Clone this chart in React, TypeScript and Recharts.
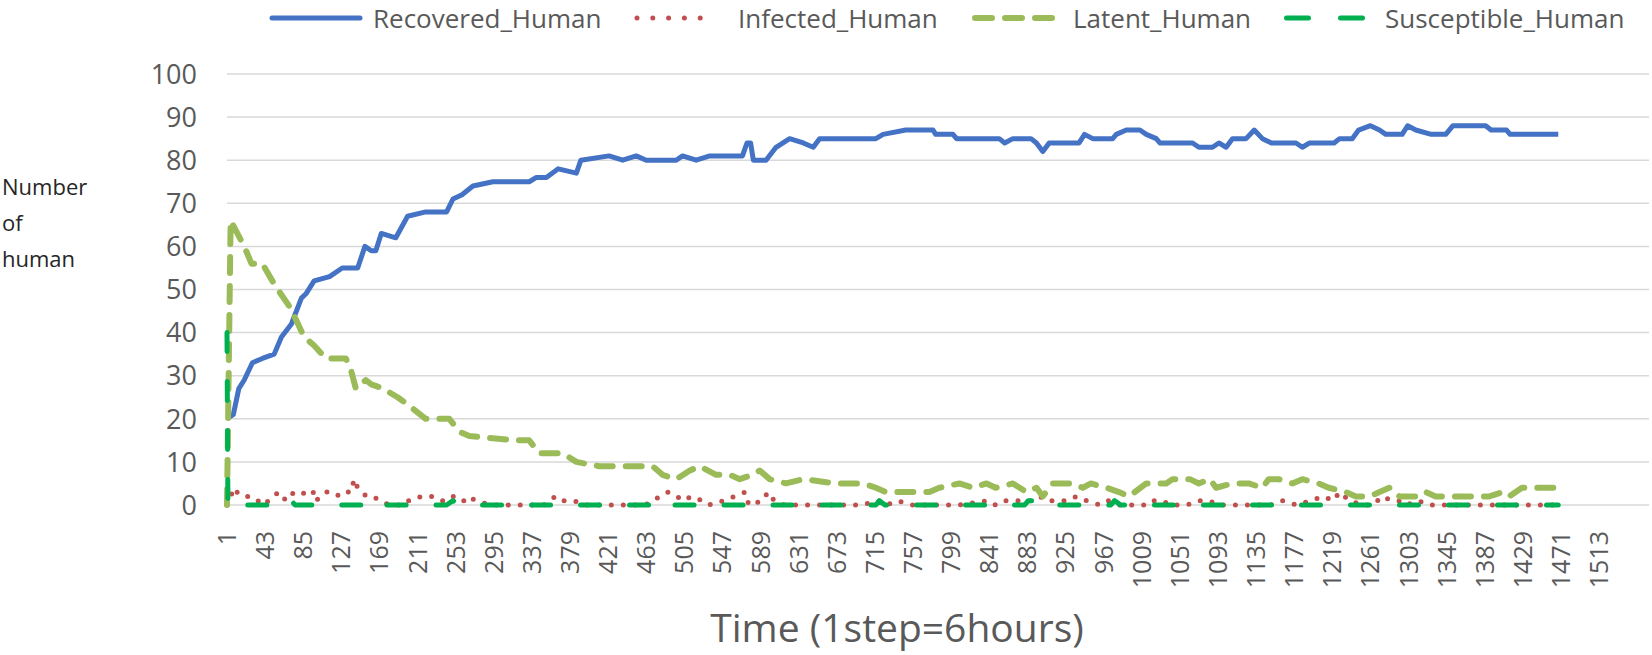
import React from "react";
import { LineChart, Line, XAxis, YAxis, CartesianGrid } from "recharts";

const WIDTH = 1652;
const HEIGHT = 655;
const FONT = "'Open Sans', sans-serif";
const TEXT = "#595959";

const seriesNames = ["Recovered_Human", "Infected_Human", "Latent_Human", "Susceptible_Human"];
const colors = ["#4472C4", "#C0504D", "#9BBB59", "#00B050"];

const xTicks = [
  1, 43, 85, 127, 169, 211, 253, 295, 337, 379, 421, 463, 505, 547, 589, 631, 673, 715, 757,
  799, 841, 883, 925, 967, 1009, 1051, 1093, 1135, 1177, 1219, 1261, 1303, 1345, 1387, 1429,
  1471, 1513,
];
const yTicks = [0, 10, 20, 30, 40, 50, 60, 70, 80, 90, 100];

// [time step, number of humans]
const recovered = [
  [1, 20], [8, 21], [14, 27], [20, 29], [29, 33], [40, 34], [53, 35], [61, 39], [72, 42],
  [83, 48], [88, 49], [97, 52], [114, 53], [128, 55], [145, 55], [153, 60], [160, 59],
  [165, 59], [171, 63], [187, 62], [200, 67], [220, 68], [243, 68], [250, 71], [260, 72],
  [272, 74], [294, 75], [334, 75], [342, 76], [353, 76], [366, 78], [386, 77], [391, 80],
  [422, 81], [437, 80], [452, 81], [463, 80], [496, 80], [503, 81], [518, 80], [533, 81],
  [569, 81], [574, 84], [578, 84], [581, 80], [595, 80], [606, 83], [621, 85], [636, 84],
  [647, 83], [654, 85], [716, 85], [724, 86], [749, 87], [779, 87], [782, 86], [801, 86],
  [805, 85], [852, 85], [858, 84], [867, 85], [887, 85], [893, 84], [900, 82], [907, 84],
  [940, 84], [946, 86], [955, 85], [977, 85], [981, 86], [992, 87], [1007, 87], [1014, 86],
  [1025, 85], [1029, 84], [1065, 84], [1072, 83], [1087, 83], [1094, 84], [1102, 83],
  [1109, 85], [1124, 85], [1133, 87], [1142, 85], [1152, 84], [1179, 84], [1186, 83],
  [1194, 84], [1221, 84], [1227, 85], [1241, 85], [1248, 87], [1261, 88], [1271, 87],
  [1278, 86], [1296, 86], [1302, 88], [1311, 87], [1328, 86], [1344, 86], [1352, 88],
  [1388, 88], [1394, 87], [1411, 87], [1415, 86], [1468, 86],
];

const infected = [
  [1, 0], [5, 2], [9, 4], [12, 3], [18, 2], [28, 2], [35, 1], [40, 0], [47, 1], [51, 2],
  [59, 3], [66, 1], [75, 3], [84, 3], [89, 2], [97, 3], [99, 1], [104, 2], [110, 3],
  [118, 3], [125, 2], [132, 3], [138, 3], [141, 6], [145, 4], [149, 3], [155, 2], [162, 2],
  [169, 1], [180, 0], [191, 0], [196, 1], [205, 1], [215, 2], [226, 2], [235, 1], [242, 1],
  [249, 2], [256, 2], [262, 1], [267, 2], [275, 1], [291, 0], [350, 0], [363, 2], [370, 1],
  [383, 1], [395, 0], [462, 0], [470, 1], [478, 2], [487, 3], [496, 2], [505, 1], [512, 2],
  [525, 1], [532, 0], [548, 1], [560, 2], [572, 3], [576, 0], [591, 1], [597, 3], [604, 1],
  [615, 0], [701, 0], [718, 1], [728, 0], [740, 1], [756, 0], [807, 0], [840, 1], [848, 0],
  [857, 1], [875, 1], [890, 1], [900, 2], [909, 1], [926, 1], [937, 2], [948, 1], [963, 0],
  [972, 1], [985, 0], [1015, 0], [1021, 1], [1032, 1], [1040, 0], [1059, 0], [1072, 1],
  [1083, 1], [1095, 0], [1151, 0], [1164, 1], [1180, 0], [1209, 2], [1220, 1], [1227, 3],
  [1238, 1], [1252, 0], [1264, 0], [1274, 2], [1285, 1], [1292, 1], [1300, 0], [1314, 1],
  [1325, 0], [1468, 0],
];

const latent = [
  [1, 0], [5, 66], [10, 64], [20, 60], [28, 56], [40, 56], [51, 52], [57, 50], [70, 46],
  [77, 43], [86, 39], [97, 37], [110, 34], [132, 34], [138, 31], [143, 27], [154, 29],
  [160, 28], [173, 27], [189, 25], [202, 23], [220, 20], [246, 20], [257, 17], [268, 16],
  [320, 15], [334, 15], [345, 12], [371, 12], [386, 10], [411, 9], [470, 9], [481, 7],
  [496, 6], [511, 8], [522, 9], [540, 7], [555, 7], [566, 6], [580, 7], [588, 8], [599, 6],
  [617, 5], [636, 6], [672, 5], [702, 5], [716, 4], [727, 3], [775, 3], [786, 4], [808, 5],
  [823, 4], [838, 5], [848, 4], [867, 5], [882, 3], [893, 4], [900, 2], [911, 5], [933, 5],
  [944, 4], [953, 5], [970, 4], [984, 3], [995, 2], [1014, 5], [1036, 5], [1043, 6],
  [1062, 6], [1072, 5], [1084, 6], [1091, 4], [1109, 5], [1127, 5], [1142, 4], [1149, 6],
  [1160, 6], [1175, 5], [1186, 6], [1204, 5], [1215, 4], [1234, 3], [1245, 2], [1260, 2],
  [1271, 3], [1282, 4], [1293, 2], [1315, 2], [1322, 3], [1333, 2], [1392, 2], [1407, 3],
  [1414, 2], [1428, 4], [1468, 4],
];

const susceptible = [
  [1, 40], [2, 0], [9, 1], [15, 1], [18, 0], [62, 0], [66, 1], [72, 1], [76, 0], [150, 0],
  [155, 1], [162, 1], [166, 0], [243, 0], [250, 1], [258, 0], [470, 0], [474, 1], [480, 0],
  [716, 0], [720, 1], [726, 0], [880, 0], [884, 1], [893, 1], [898, 0], [975, 0], [979, 1],
  [986, 0], [1468, 0],
];

const toRows = (pts: number[][]) => pts.map(([step, value]) => ({ step, value }));

const YTick = ({ y, payload }: any) => (
  <text x={197} y={y} dy="0.36em" textAnchor="end" fontSize={27} fontFamily={FONT} fill={TEXT}>
    {payload.value}
  </text>
);

const XTick = ({ x, payload }: any) => (
  <text
    transform={`translate(${x},531) rotate(-90)`}
    dy="0.36em"
    textAnchor="end"
    fontSize={25}
    fontFamily={FONT}
    fill={TEXT}
  >
    {payload.value}
  </text>
);

// legend layout: [icon start, icon end, text x]
const legendPos = [
  [272, 360, 373],
  [637, 716, 738],
  [975, 1052, 1073],
  [1286.5, 1362.5, 1385],
];
const legendDash = ["", "0 15.8", "17 13", "22 32"];
const legendWidth = [5, 5, 6, 5];

export default function App() {
  return (
    <div style={{ position: "absolute", left: 0, top: 0, width: WIDTH, height: HEIGHT, background: "#fff" }}>
      <LineChart width={WIDTH} height={HEIGHT} margin={{ top: 74, right: 3, bottom: 90, left: 0 }}>
        <CartesianGrid vertical={false} stroke="#d9d9d9" strokeWidth={1.5} />
        <XAxis
          dataKey="step"
          type="number"
          domain={[1, 1568]}
          ticks={xTicks}
          interval={0}
          height={60}
          axisLine={false}
          tickLine={false}
          tick={XTick}
        />
        <YAxis
          type="number"
          domain={[0, 100]}
          ticks={yTicks}
          width={227}
          axisLine={false}
          tickLine={false}
          tick={YTick}
        />
        <Line
          data={toRows(recovered)}
          dataKey="value"
          name={seriesNames[0]}
          stroke={colors[0]}
          strokeWidth={5}
          strokeLinejoin="round"
          dot={false}
          activeDot={false}
          isAnimationActive={false}
        />
        <Line
          data={toRows(infected)}
          dataKey="value"
          name={seriesNames[1]}
          stroke={colors[1]}
          strokeWidth={5}
          strokeDasharray="0 12"
          strokeLinecap="round"
          strokeLinejoin="round"
          dot={false}
          activeDot={false}
          isAnimationActive={false}
        />
        <Line
          data={toRows(latent)}
          dataKey="value"
          name={seriesNames[2]}
          stroke={colors[2]}
          strokeWidth={6}
          strokeDasharray="16 13"
          strokeLinecap="round"
          strokeLinejoin="round"
          dot={false}
          activeDot={false}
          isAnimationActive={false}
        />
        <Line
          data={toRows(susceptible)}
          dataKey="value"
          name={seriesNames[3]}
          stroke={colors[3]}
          strokeWidth={5}
          strokeDasharray="19 30"
          strokeLinecap="round"
          strokeLinejoin="round"
          dot={false}
          activeDot={false}
          isAnimationActive={false}
        />
      </LineChart>

      <svg
        width={WIDTH}
        height={HEIGHT}
        style={{ position: "absolute", left: 0, top: 0, pointerEvents: "none" }}
      >
        {seriesNames.map((name, i) => (
          <g key={name}>
            <line
              x1={legendPos[i][0]}
              x2={legendPos[i][1]}
              y1={18}
              y2={18}
              stroke={colors[i]}
              strokeWidth={legendWidth[i]}
              strokeLinecap="round"
              strokeDasharray={legendDash[i] || undefined}
            />
            <text x={legendPos[i][2]} y={28} fontSize={26} fontFamily={FONT} fill={TEXT}>
              {name}
            </text>
          </g>
        ))}
        <text fontSize={22} fontFamily={FONT} fill="#262626">
          <tspan x={2} y={195}>Number</tspan>
          <tspan x={2} y={231}>of</tspan>
          <tspan x={2} y={267}>human</tspan>
        </text>
        <text x={897} y={642} textAnchor="middle" fontSize={39} fontFamily={FONT} fill={TEXT}>
          Time (1step=6hours)
        </text>
      </svg>
    </div>
  );
}
